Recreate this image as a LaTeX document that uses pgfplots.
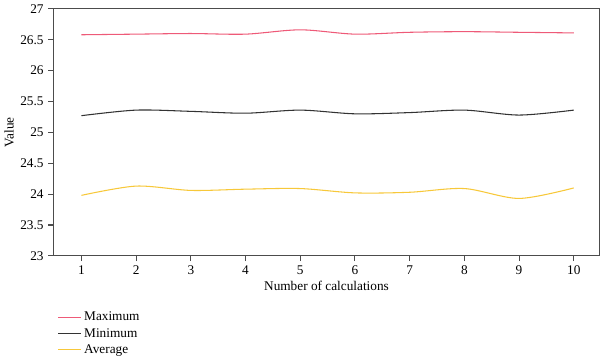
\documentclass[border=0pt]{standalone}
\usepackage{pgfplots}
\pgfplotsset{compat=1.18}
\usepackage{fontspec}
\setmainfont{Liberation Serif}
\definecolor{cmax}{HTML}{EE5A78}
\definecolor{cmin}{HTML}{333333}
\definecolor{cavg}{HTML}{F7C83A}
\begin{document}
\begin{tikzpicture}
\begin{axis}[
  scale only axis,
  width=411pt, height=186pt,
  xmin=0.49, xmax=10.47,
  ymin=23, ymax=27,
  xtick={1,...,10},
  ytick={23,23.5,...,27},
  yticklabels={23,23.5,24,24.5,25,25.5,26,26.5,27},
  tick align=outside,
  tick pos=left,
  major tick length=4pt,
  axis line style={color=black!70, line width=0.8pt},
  tick style={color=black!70, line width=0.8pt},
  /pgf/number format/assume math mode=true,
  ticklabel style={font=\normalsize},
  xlabel={Number of calculations},
  ylabel={Value},
  xlabel style={yshift=2pt},
  ylabel style={yshift=-2pt},
  legend style={draw=none, at={(0.0,-0.205)}, anchor=north west,
    cells={anchor=west}, row sep=0pt, font=\normalsize},
  legend image post style={},
  legend cell align=left,
]
\addplot[cmax, line width=0.8pt, smooth] coordinates {
(1,26.58) (2,26.59) (3,26.60) (4,26.59) (5,26.66) (6,26.59) (7,26.62) (8,26.63) (9,26.62) (10,26.61)};
\addplot[cmin, line width=0.8pt, smooth] coordinates {
(1,25.27) (2,25.36) (3,25.34) (4,25.31) (5,25.36) (6,25.30) (7,25.32) (8,25.36) (9,25.28) (10,25.36)};
\addplot[cavg, line width=0.8pt, smooth] coordinates {
(1,23.98) (2,24.13) (3,24.06) (4,24.08) (5,24.09) (6,24.02) (7,24.03) (8,24.09) (9,23.93) (10,24.10)};
\legend{Maximum, Minimum, Average}
\end{axis}
\end{tikzpicture}
\end{document}
